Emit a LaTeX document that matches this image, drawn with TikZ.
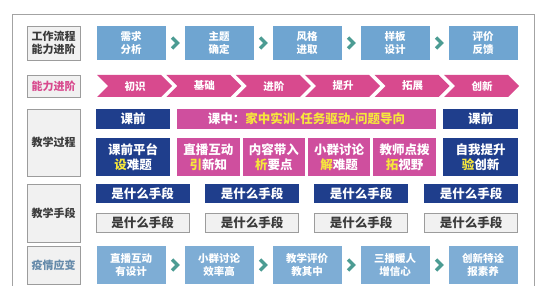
\documentclass[tikz,border=0pt]{standalone}
\usepackage{fontspec}
\usetikzlibrary{calc}
\newfontfamily\cjk{Noto Sans CJK SC}
\definecolor{framegray}{HTML}{A3A3A3}
\definecolor{labgray}{HTML}{9C9C9C}
\definecolor{labfill}{HTML}{F1F1F1}
\definecolor{darktext}{HTML}{3A3A3A}
\definecolor{flowblue}{HTML}{6FA5D1}
\definecolor{coldblue}{HTML}{7EADD5}
\definecolor{chevgreen}{HTML}{4C9C93}
\definecolor{pinkA}{HTML}{D84A8E}
\definecolor{pinkB}{HTML}{CF4F9E}
\definecolor{navy}{HTML}{1F3E8C}
\definecolor{yel}{HTML}{F6E63C}
\def\chev#1#2{\draw[chevline] ($(#1.east)!.5!(#2.west)$) ++(-3,-5.5) -- ++(5.5,5.5) -- ++(-5.5,5.5);}
\def\pinkarrow#1#2#3{\fill[pinkA] (#1,75) -- ++(64,0) -- ++(11,11) -- ++(-11,11) -- ++(-64,0) -- ++(11,-11) -- cycle;
  \node[ptext] (#2) at (#1+38,86) {#3};}

\begin{document}
\begin{tikzpicture}[x=1pt,y=-1pt,
  every node/.style={inner sep=0pt, align=center, font=\cjk\bfseries},
  lab/.style={draw=labgray, fill=labfill, line width=0.8pt, minimum width=53pt, text=darktext, font=\cjk\bfseries\fontsize{11}{13.5}\selectfont},
  flow/.style={fill=flowblue, minimum width=69pt, minimum height=34pt, text=white, font=\cjk\bfseries\fontsize{10.5}{13}\selectfont},
  cold/.style={flow, fill=coldblue, minimum height=38pt},
  chevline/.style={chevgreen, line width=3.4pt, miter limit=4},
  ptext/.style={text=white, font=\cjk\bfseries\fontsize{10.5}{12}\selectfont},
  navybox/.style={fill=navy, text=white, font=\cjk\bfseries\fontsize{12.5}{15}\selectfont},
  pinkbox/.style={fill=pinkB, text=white, font=\cjk\bfseries\fontsize{12.5}{15}\selectfont},
  dark/.style={navybox, minimum width=94pt, minimum height=19pt},
  light/.style={draw=labgray, fill=labfill, line width=0.8pt, text=darktext, minimum width=93pt, minimum height=19pt, font=\cjk\bfseries\fontsize{12.5}{14}\selectfont}]

  \useasboundingbox (0,0) rectangle (554,286);
  \draw[framegray, line width=0.9pt] (12,286) -- (12,14) -- (534,14) -- (534,286);

  \node[lab, minimum height=34pt] (work) at (53.5,43) {工作流程\\能力进阶};
  \node[lab, minimum height=22pt, text=pinkA] (ability) at (53.5,86) {能力进阶};
  \node[lab, minimum height=67pt] (process) at (53.5,142.5) {教学过程};
  \node[lab, minimum height=58pt] (means) at (53.5,213) {教学手段};
  \node[lab, minimum height=38pt, text=coldblue!80!black] (epidemic) at (53.5,265) {疫情应变};

  \node[flow] (need) at (131,43) {需求\\分析};
  \node[flow] (theme) at (219,43) {主题\\确定};
  \node[flow] (style) at (307,43) {风格\\进取};
  \node[flow] (sample) at (395,43) {样板\\设计};
  \node[flow] (review) at (483,43) {评价\\反馈};
  \chev{need}{theme}
  \chev{theme}{style}
  \chev{style}{sample}
  \chev{sample}{review}

  \pinkarrow{97}{first}{初识}
  \pinkarrow{166.4}{basic}{基础}
  \pinkarrow{235.8}{advance}{进阶}
  \pinkarrow{305.2}{raise}{提升}
  \pinkarrow{374.6}{expand}{拓展}
  \pinkarrow{444}{create}{创新}

  \node[navybox, minimum width=74pt, minimum height=20pt] (pre) at (133,119) {课前};
  \node[pinkbox, minimum width=259pt, minimum height=20pt] (inclass) at (306.5,119) {课中：\textcolor{yel}{家中实训-任务驱动-问题导向}};
  \node[navybox, minimum width=75pt, minimum height=20pt] (post) at (480.5,119) {课前};

  \node[navybox, minimum width=74pt, minimum height=38pt] (platform) at (133,157) {课前平台\\\textcolor{yel}{设}难题};
  \node[pinkbox, minimum width=62.5pt, minimum height=38pt] (live) at (208.4,157) {直播互动\\\textcolor{yel}{引}新知};
  \node[pinkbox, minimum width=62.5pt, minimum height=38pt] (content) at (273.8,157) {内容带入\\\textcolor{yel}{析}要点};
  \node[pinkbox, minimum width=62.5pt, minimum height=38pt] (group) at (339.2,157) {小群讨论\\\textcolor{yel}{解}难题};
  \node[pinkbox, minimum width=62.5pt, minimum height=38pt] (teacher) at (404.6,157) {教师点拨\\\textcolor{yel}{拓}视野};
  \node[navybox, minimum width=75pt, minimum height=38pt] (self) at (480.5,157) {自我提升\\\textcolor{yel}{验}创新};

  \node[dark] (whatA) at (142.5,193.5) {是什么手段};
  \node[dark] (whatB) at (252,193.5) {是什么手段};
  \node[dark] (whatC) at (361,193.5) {是什么手段};
  \node[dark] (whatD) at (471,193.5) {是什么手段};
  \node[light] (howA) at (142.5,222.5) {是什么手段};
  \node[light] (howB) at (252,222.5) {是什么手段};
  \node[light] (howC) at (361,222.5) {是什么手段};
  \node[light] (howD) at (471,222.5) {是什么手段};

  \node[cold] (liveon) at (131,265) {直播互动\\有设计};
  \node[cold] (talk) at (219,265) {小群讨论\\效率高};
  \node[cold] (assess) at (307,265) {教学评价\\教其中};
  \node[cold] (warm) at (395,265) {三播暖人\\增信心};
  \node[cold] (novel) at (483,265) {创新特诠\\报素养};
  \chev{liveon}{talk}
  \chev{talk}{assess}
  \chev{assess}{warm}
  \chev{warm}{novel}
\end{tikzpicture}
\end{document}
